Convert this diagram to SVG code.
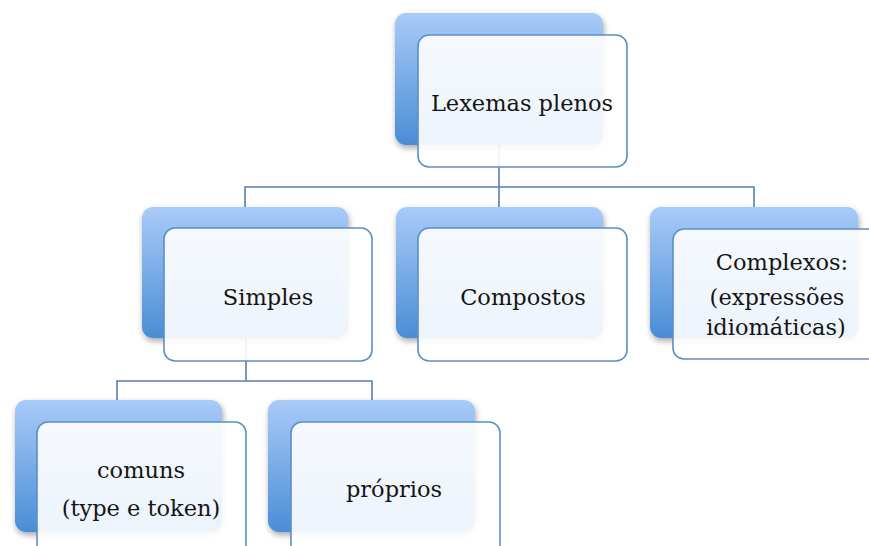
<svg xmlns="http://www.w3.org/2000/svg" width="869" height="546" viewBox="0 0 869 546">
<defs>
<linearGradient id="g" x1="0" y1="0" x2="0" y2="1">
<stop offset="0" stop-color="#a9cbf8"/>
<stop offset="1" stop-color="#4a8dd6"/>
</linearGradient>
<filter id="sh" x="-10%" y="-10%" width="125%" height="130%">
<feGaussianBlur in="SourceAlpha" stdDeviation="3"/>
<feOffset dx="1" dy="3"/>
<feComponentTransfer><feFuncA type="linear" slope="0.35"/></feComponentTransfer>
<feMerge><feMergeNode/><feMergeNode in="SourceGraphic"/></feMerge>
</filter>
</defs>
<style>
.back{fill:url(#g);filter:url(#sh)}
.front{fill:#ffffff;fill-opacity:0.9;stroke:#5d8ec4;stroke-width:1.6}
.conn{fill:none;stroke:#5580b0;stroke-width:1.6}
text{font-family:"DejaVu Serif","Liberation Serif",serif;font-size:22.5px;fill:#151515;text-anchor:middle}
</style>
<rect width="869" height="546" fill="#ffffff"/>
<g id="connectors">
<path class="conn" d="M499 145 V187 M245 207 V187 H754 V207 M499 187 V207"/>
<path class="conn" d="M246 338 V381 M117 400 V381 H372 V400"/>
</g>
<g id="lexemas">
<rect class="back" x="395" y="13" width="208" height="132" rx="11"/>
<rect class="front" x="418" y="35" width="209" height="132" rx="11"/>
<text x="522" y="111">Lexemas plenos</text>
</g>
<g id="simples">
<rect class="back" x="142" y="207" width="206" height="131" rx="11"/>
<rect class="front" x="164" y="228" width="208" height="133" rx="11"/>
<text x="268" y="305">Simples</text>
</g>
<g id="compostos">
<rect class="back" x="396" y="207" width="207" height="131" rx="11"/>
<rect class="front" x="418" y="228" width="209" height="133" rx="11"/>
<text x="523" y="305">Compostos</text>
</g>
<g id="complexos">
<rect class="back" x="650" y="207" width="208" height="131" rx="11"/>
<rect class="front" x="673" y="229" width="209" height="130" rx="11"/>
<text x="782" y="270">Complexos:</text>
<text x="777" y="305">(expressões</text>
<text x="776" y="335">idiomáticas)</text>
</g>
<g id="comuns">
<rect class="back" x="15" y="400" width="207" height="132" rx="11"/>
<rect class="front" x="37" y="422" width="209" height="140" rx="11"/>
<text x="141" y="478">comuns</text>
<text x="141" y="516">(type e token)</text>
</g>
<g id="proprios">
<rect class="back" x="268" y="400" width="207" height="132" rx="11"/>
<rect class="front" x="291" y="422" width="209" height="140" rx="11"/>
<text x="394" y="497">próprios</text>
</g>
</svg>
